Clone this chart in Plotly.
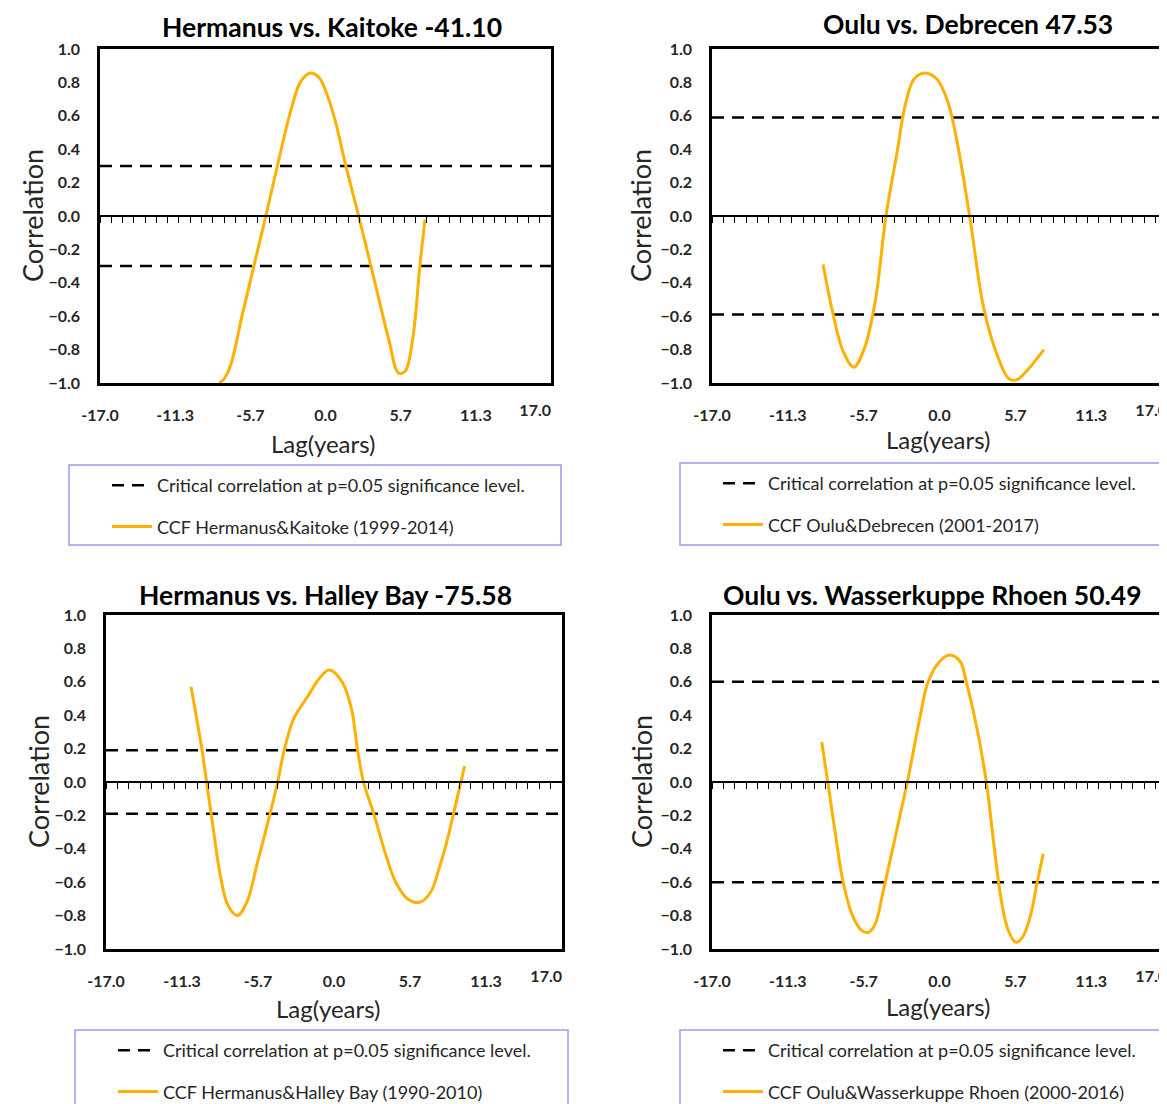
import plotly.graph_objects as go

W, H = 1167, 1104

# ---------------- data ----------------
titles = ["Hermanus vs. Kaitoke -41.10", "Oulu vs. Debrecen 47.53",
          "Hermanus vs. Halley Bay -75.58", "Oulu vs. Wasserkuppe Rhoen 50.49"]
ccf_names = ["CCF Hermanus&Kaitoke (1999-2014)", "CCF Oulu&Debrecen (2001-2017)",
             "CCF Hermanus&Halley Bay (1990-2010)", "CCF Oulu&Wasserkuppe Rhoen (2000-2016)"]
crit_name = "Critical correlation at p=0.05 significance level."
critical = [0.30, 0.59, 0.19, 0.60]
x_tick_labels = ["-17.0", "-11.3", "-5.7", "0.0", "5.7", "11.3", "17.0"]

lag_kaitoke = [-8.0, -7.6, -7.1, -6.3, -5.4, -4.5, -3.6, -2.55, -1.9, -1.2, -0.5, 0.15, 0.8, 1.5,
               2.5, 3.7, 4.8, 5.5, 6.0, 6.6, 7.1, 7.5]
ccf_kaitoke = [-1.00, -0.97, -0.88, -0.60, -0.30, 0.00, 0.31, 0.65, 0.80, 0.855, 0.83, 0.72, 0.55,
               0.31, 0.00, -0.39, -0.75, -0.94, -0.93, -0.72, -0.31, -0.02]

lag_debrecen = [-8.7, -8.0, -7.2, -6.4, -5.6, -4.8, -4.0, -3.15, -2.6, -1.9, -1.1, -0.2, 0.6,
                1.3, 2.25, 3.3, 4.3, 5.2, 5.8, 6.6, 7.8]
ccf_debrecen = [-0.29, -0.57, -0.81, -0.905, -0.79, -0.51, 0.00, 0.39, 0.65, 0.82, 0.856, 0.82, 0.69,
                0.45, 0.00, -0.55, -0.83, -0.975, -0.98, -0.92, -0.80]

lag_halley = [-10.66, -9.86, -9.5, -9.0, -8.5, -7.9, -7.2, -6.5, -5.7, -4.8, -4.2, -3.7, -3.0,
              -1.9, -1.1, -0.35, 0.6, 1.3, 1.75, 2.2, 3.0, 3.8, 4.6, 5.5, 6.4, 7.2, 7.9, 8.5,
              8.88, 9.74]
ccf_halley = [0.57, 0.20, 0.00, -0.28, -0.55, -0.74, -0.80, -0.72, -0.48, -0.20, 0.00, 0.195, 0.38,
              0.52, 0.62, 0.67, 0.60, 0.44, 0.195, 0.00, -0.20, -0.42, -0.60, -0.70, -0.72, -0.66,
              -0.50, -0.33, -0.20, 0.095]

lag_wasser = [-8.8, -8.35, -7.8, -7.2, -6.5, -5.8, -5.3, -4.8, -4.2, -3.5, -2.9, -2.4, -1.5, -0.85,
              0.0, 0.75, 1.55, 2.0, 2.8, 3.5, 4.1, 4.6, 5.1, 5.7, 6.2, 6.8, 7.3, 7.75]
ccf_wasser = [0.24, 0.00, -0.30, -0.60, -0.80, -0.89, -0.90, -0.85, -0.65, -0.40, -0.18, 0.00, 0.37,
              0.60, 0.72, 0.76, 0.72, 0.60, 0.32, 0.00, -0.40, -0.70, -0.88, -0.96, -0.93, -0.80,
              -0.60, -0.43]

lags = [lag_kaitoke, lag_debrecen, lag_halley, lag_wasser]
ccfs = [ccf_kaitoke, ccf_debrecen, ccf_halley, ccf_wasser]

x_min, x_max = -17.0, 17.0
y_min, y_max = -1.0, 1.0

# ---------------- layout geometry (pixels) ----------------
panels = [
    dict(box=(92, 41, 543, 375), title=(324, 19), ylab=(25, 208), xlab=(315, 435),
         leg_box=(61, 457, 553, 537), leg=(99, 459)),
    dict(box=(704, 41, 1159, 375), title=(960, 16), ylab=(633, 208), xlab=(930, 432),
         leg_box=(672, 455, 1165, 537), leg=(710, 457)),
    dict(box=(98, 607, 554, 941), title=(318, 587), ylab=(30, 774), xlab=(320, 1000),
         leg_box=(67, 1022, 560, 1104), leg=(105, 1024)),
    dict(box=(704, 607, 1159, 941), title=(924, 587), ylab=(633, 774), xlab=(930, 998),
         leg_box=(672, 1022, 1165, 1104), leg=(710, 1024)),
]

FONT = "Lato"
ORANGE = "#FFB000"
TXT = "#262626"

def px(x):
    return x / W

def py(y):
    return 1 - y / H

step = (x_max - x_min) / (len(x_tick_labels) - 1)
x_tick_vals = [x_min + k * step for k in range(len(x_tick_labels))]
tickfont = dict(family=FONT, size=16, color=TXT, weight="bold")
dash_line = dict(color="black", width=2.5, dash="12px,8px")

fig = go.Figure()
layout = dict(width=W, height=H, margin=dict(l=0, r=0, t=0, b=0, autoexpand=False),
              paper_bgcolor="white", plot_bgcolor="white", showlegend=True,
              font=dict(family=FONT, color=TXT))
annotations = []
shapes = []

for i, p in enumerate(panels):
    n = i + 1
    xl = n + 4   # overlay axis: the last (pulled-in) tick label; carries the lower critical line
    xo = n + 8   # overlay axis: zero line with minor ticks; carries the CCF curve
    x0, y0, x1, y1 = p["box"]
    xdom = [px(x0), px(x1)]
    ydom = [py(y1), py(y0)]
    leg_key = "legend" if n == 1 else f"legend{n}"
    xa = "x" if n == 1 else f"x{n}"
    ya = "y" if n == 1 else f"y{n}"
    c = critical[i]

    fig.add_trace(go.Scatter(
        x=[x_min, x_max], y=[c, c], mode="lines", line=dash_line,
        name=crit_name, legend=leg_key, legendgroup=f"crit{n}",
        xaxis=xa, yaxis=ya, hoverinfo="skip"))
    fig.add_trace(go.Scatter(
        x=[x_min, x_max], y=[-c, -c], mode="lines", line=dash_line,
        name=crit_name, legend=leg_key, legendgroup=f"crit{n}", showlegend=False,
        xaxis=f"x{xl}", yaxis=ya, hoverinfo="skip"))
    fig.add_trace(go.Scatter(
        x=lags[i], y=ccfs[i], mode="lines",
        line=dict(color=ORANGE, width=3, shape="spline", smoothing=1.0),
        name=ccf_names[i], legend=leg_key, legendgroup=f"ccf{n}",
        xaxis=f"x{xo}", yaxis=ya))

    axx = dict(domain=xdom, anchor=ya, range=[x_min, x_max], showgrid=False, zeroline=False,
               showline=True, mirror=True, linecolor="black", linewidth=2.5, automargin=False,
               tickmode="array", tickvals=x_tick_vals[:-1], ticktext=x_tick_labels[:-1],
               ticks="", ticklabelstandoff=16, tickfont=tickfont)
    axy = dict(domain=ydom, anchor=xa, range=[y_min, y_max], showgrid=False, zeroline=False,
               showline=True, mirror=True, linecolor="black", linewidth=2.5, automargin=False,
               tick0=0, dtick=0.2, tickformat=".1f", ticks="", ticklabelstandoff=14,
               tickfont=tickfont)
    axl = dict(overlaying=xa, anchor=ya, side="bottom", range=[x_min, x_max],
               showgrid=False, zeroline=False, showline=False, automargin=False, ticks="",
               tickmode="array", tickvals=[x_tick_vals[-1]], ticktext=[x_tick_labels[-1]],
               ticklabelposition="outside left", ticklabelstandoff=16,
               ticklabeloverflow="allow", tickfont=tickfont)
    axo = dict(overlaying=xa, anchor="free", position=(ydom[0] + ydom[1]) / 2,
               range=[x_min, x_max], showgrid=False, zeroline=False, showline=True,
               automargin=False,
               linecolor="black", linewidth=1.5, ticks="outside", ticklen=6, tickwidth=1.2,
               tickcolor="black", tick0=x_min, dtick=0.85, showticklabels=False)
    layout["xaxis" if n == 1 else f"xaxis{n}"] = axx
    layout["yaxis" if n == 1 else f"yaxis{n}"] = axy
    layout[f"xaxis{xl}"] = axl
    layout[f"xaxis{xo}"] = axo

    layout[leg_key] = dict(x=px(p["leg"][0]), y=py(p["leg"][1]), xanchor="left", yanchor="top",
                           bgcolor="rgba(0,0,0,0)", borderwidth=0, tracegroupgap=15,
                           itemwidth=40, traceorder="grouped",
                           font=dict(family=FONT, size=18, color=TXT))

    bx0, by0, bx1, by1 = p["leg_box"]
    shapes.append(dict(type="rect", xref="paper", yref="paper", x0=px(bx0), x1=px(bx1),
                       y0=py(by1), y1=py(by0), line=dict(color="#9A9AF0", width=1.5),
                       fillcolor="rgba(0,0,0,0)", layer="below"))

    annotations.append(dict(text=titles[i], xref="paper", yref="paper", x=px(p["title"][0]),
                            y=py(p["title"][1]), xanchor="center", yanchor="middle",
                            showarrow=False,
                            font=dict(family=FONT, size=26.5, color="black", weight="bold")))
    annotations.append(dict(text="Correlation", xref="paper", yref="paper", x=px(p["ylab"][0]),
                            y=py(p["ylab"][1]), xanchor="center", yanchor="middle",
                            textangle=-90, showarrow=False,
                            font=dict(family=FONT, size=27, color=TXT)))
    annotations.append(dict(text="Lag(years)", xref="paper", yref="paper", x=px(p["xlab"][0]),
                            y=py(p["xlab"][1]), xanchor="center", yanchor="middle",
                            showarrow=False, font=dict(family=FONT, size=24, color=TXT)))

layout["annotations"] = annotations
layout["shapes"] = shapes
fig.update_layout(**layout)
fig.write_html("out.html")
